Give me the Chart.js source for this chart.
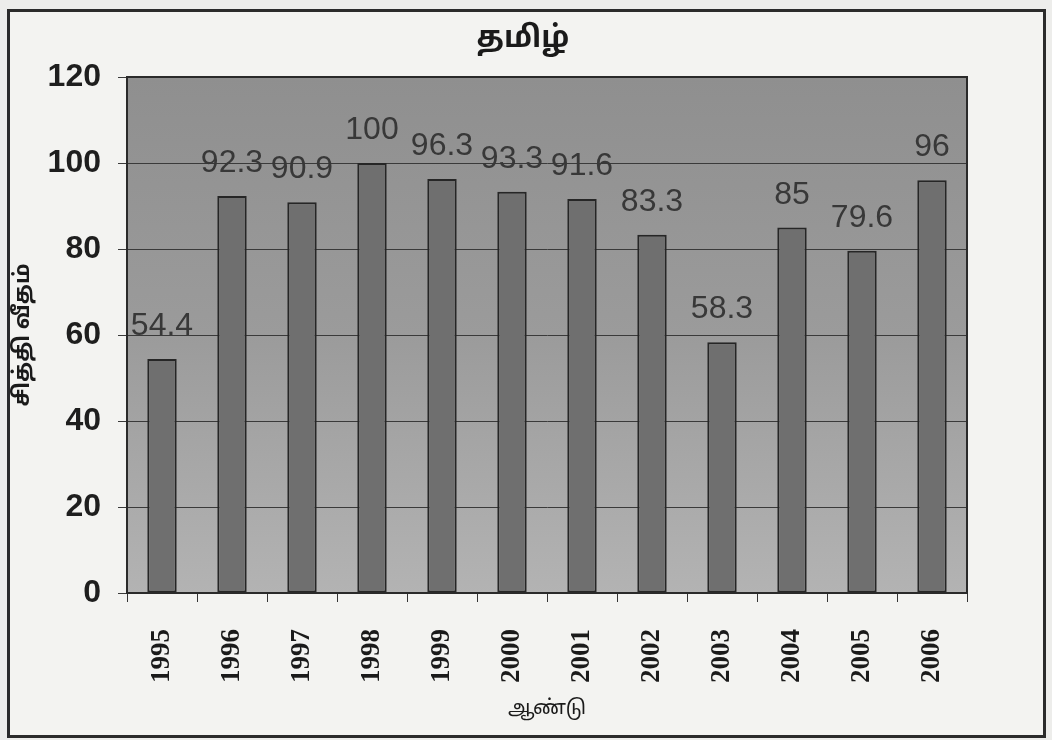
<!DOCTYPE html>
<html>
<head>
<meta charset="utf-8">
<script src="https://cdn.jsdelivr.net/npm/chart.js@4.4.1/dist/chart.umd.min.js"></script>
<style>
  html, body { margin: 0; padding: 0; background: #ededeb; }
  #wrap { position: relative; width: 1052px; height: 740px; overflow: hidden; }
  #frame { position: absolute; left: 7px; top: 9px; width: 1033px; height: 723px; border: 3px solid #2b2b2b; background: #f3f3f1; }
  canvas { position: absolute; left: 0; top: 0; }
</style>
</head>
<body>
<div id="wrap">
  <div id="frame"></div>
  <canvas id="c" width="1052" height="740"></canvas>
</div>
<script>
const chartTitle = "தமிழ்";
const xAxisTitle = "ஆண்டு";
const yAxisTitle = "சித்தி வீதம்";
const years = ["1995","1996","1997","1998","1999","2000","2001","2002","2003","2004","2005","2006"];
const passRates = [54.4, 92.3, 90.9, 100, 96.3, 93.3, 91.6, 83.3, 58.3, 85, 79.6, 96];
const valueLabels = ["54.4","92.3","90.9","100","96.3","93.3","91.6","83.3","58.3","85","79.6","96"];
const yTicks = [0, 20, 40, 60, 80, 100, 120];

const tamilFont = '"Noto Sans Tamil", "Noto Sans", "Liberation Sans", sans-serif';

const plotBg = {
  id: 'plotBg',
  beforeDraw(chart) {
    const {ctx, chartArea: a} = chart;
    const g = ctx.createLinearGradient(0, a.top, 0, a.bottom);
    g.addColorStop(0, '#8f8f8f');
    g.addColorStop(0.5, '#9b9b9b');
    g.addColorStop(1, '#b3b3b3');
    ctx.save();
    ctx.fillStyle = g;
    ctx.fillRect(a.left, a.top, a.right - a.left, a.bottom - a.top);
    ctx.restore();
  },
  afterDraw(chart) {
    const {ctx, chartArea: a} = chart;
    ctx.save();
    ctx.strokeStyle = '#2a2a2a';
    ctx.lineWidth = 2;
    ctx.strokeRect(a.left, a.top, a.right - a.left, a.bottom - a.top);
    ctx.restore();
  }
};

const barLabels = {
  id: 'barLabels',
  afterDatasetsDraw(chart) {
    const {ctx} = chart;
    const meta = chart.getDatasetMeta(0);
    ctx.save();
    ctx.font = '32px "Liberation Sans", Arial, sans-serif';
    ctx.fillStyle = '#383838';
    ctx.textAlign = 'center';
    ctx.textBaseline = 'alphabetic';
    meta.data.forEach((bar, i) => {
      ctx.fillText(valueLabels[i], bar.x, bar.y - 24);
    });
    ctx.restore();
  }
};

new Chart(document.getElementById('c'), {
  type: 'bar',
  data: {
    labels: years,
    datasets: [{
      data: passRates,
      backgroundColor: '#6f6f6f',
      borderColor: '#262626',
      borderWidth: 2,
      borderSkipped: false,
      categoryPercentage: 1.0,
      barPercentage: 0.42,
      yAxisID: 'y'
    }]
  },
  options: {
    responsive: false,
    animation: false,
    devicePixelRatio: 1,
    layout: { padding: { left: 0, right: 6, top: 0, bottom: 0 } },
    plugins: {
      legend: { display: false },
      tooltip: { enabled: false },
      title: {
        display: true,
        text: chartTitle,
        color: '#1a1a1a',
        font: { family: tamilFont, size: 30, weight: 'bold', lineHeight: 1.2 },
        padding: { top: 23, bottom: 18 }
      }
    },
    scales: {
      x: {
        offset: true,
        afterFit(scale) { scale.height = 147; },
        grid: { display: true, drawOnChartArea: false, offset: true, tickLength: 9, color: '#333', lineWidth: 1 },
        border: { display: true, color: '#2a2a2a', width: 2 },
        ticks: {
          color: '#1a1a1a',
          minRotation: 90, maxRotation: 90,
          padding: 27,
          font: { family: '"Liberation Serif", "Times New Roman", serif', size: 27, weight: 'bold' }
        },
        title: {
          display: true,
          text: xAxisTitle,
          color: '#1a1a1a',
          font: { family: tamilFont, size: 20, lineHeight: 1.2 },
          padding: { top: 4, bottom: 18 }
        }
      },
      y: {
        min: 0, max: 120,
        position: 'left',
        afterFit(scale) { scale.width = 127; },
        afterBuildTicks(scale) { scale.ticks = yTicks.map(v => ({ value: v })); },
        grid: { color: '#3a3a3a', lineWidth: 1, tickLength: 9, drawTicks: true },
        border: { display: true, color: '#2a2a2a', width: 2 },
        ticks: {
          color: '#1e1e1e',
          padding: 17,
          font: { family: '"Liberation Sans", Arial, sans-serif', size: 32, weight: 'bold' }
        },
        title: {
          display: true,
          text: yAxisTitle,
          color: '#1a1a1a',
          font: { family: tamilFont, size: 22, weight: 'bold', lineHeight: 1.2 },
          padding: { top: 11, bottom: 0 }
        }
      },
      y2: {
        type: 'linear',
        position: 'right',
        min: 0, max: 120,
        afterFit(scale) { scale.width = 79; },
        grid: { display: false },
        border: { display: false },
        ticks: { display: false }
      }
    }
  },
  plugins: [plotBg, barLabels]
});
</script>
</body>
</html>
